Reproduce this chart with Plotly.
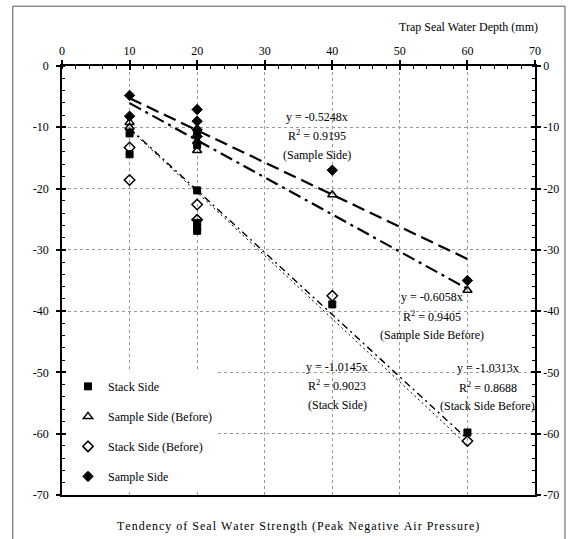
import plotly.graph_objects as go

# ---------------- data ----------------
stack_x = [10, 10, 20, 20, 20, 20, 20, 20, 40, 60]
stack_y = [-11.0, -14.4, -11.0, -12.9, -20.3, -25.6, -26.3, -26.9, -38.9, -59.8]

sample_before_x = [10, 10, 20, 20, 40, 60]
sample_before_y = [-9.2, -10.0, -12.3, -13.8, -21.0, -36.6]

stack_before_x = [10, 10, 20, 20, 40, 60]
stack_before_y = [-13.3, -18.6, -22.6, -25.1, -37.5, -61.2]

sample_x = [10, 10, 20, 20, 20, 20, 40, 60]
sample_y = [-4.8, -8.2, -7.1, -9.0, -10.4, -11.5, -17.0, -35.0]

series_names = ["Stack Side", "Sample Side (Before)", "Stack Side (Before)", "Sample Side"]

# linear trendlines through origin (as labelled on the chart)
trend_names = ["Sample Side", "Sample Side Before", "Stack Side", "Stack Side Before"]
trend_slopes = [-0.5248, -0.6058, -1.0145, -1.0313]
trend_r2 = [0.9195, 0.9405, 0.9023, 0.8688]
trend_x_range = [10, 60]

x_ticks = [0, 10, 20, 30, 40, 50, 60, 70]
x_tick_labels = ["0", "10", "20", "30", "40", "50", "60", "70"]
y_ticks = [0, -10, -20, -30, -40, -50, -60, -70]
y_tick_labels = ["0", "-10", "-20", "-30", "-40", "-50", "-60", "-70"]

x_title = "Trap Seal Water Depth (mm)"
bottom_title = "Tendency of Seal Water Strength (Peak Negative Air Pressure)"

FONT = "Liberation Serif"

fig = go.Figure()

# trendlines
trend_styles = [
    dict(dash="13px,6px", width=2.2),
    dict(dash="13px,5px,3px,5px", width=2.2),
    dict(dash="7px,4px,2px,4px", width=1.4),
    dict(dash="2px,3px", width=1.0),
]
for slope, st in zip(trend_slopes, trend_styles):
    fig.add_trace(go.Scatter(
        x=trend_x_range, y=[slope * v for v in trend_x_range],
        mode="lines", line=dict(color="black", **st),
        showlegend=False, hoverinfo="skip"))

# data series
fig.add_trace(go.Scatter(x=stack_x, y=stack_y, mode="markers", name=series_names[0],
                         legendgroup="a",
                         marker=dict(symbol="square", size=7, color="black",
                                     line=dict(color="black", width=1))))
fig.add_trace(go.Scatter(x=sample_before_x, y=sample_before_y, mode="markers", name=series_names[1],
                         legendgroup="b",
                         marker=dict(symbol="triangle-up-open", size=8, color="black",
                                     line=dict(color="black", width=1.5))))
fig.add_trace(go.Scatter(x=stack_before_x, y=stack_before_y, mode="markers", name=series_names[2],
                         legendgroup="c",
                         marker=dict(symbol="diamond-open", size=8, color="black",
                                     line=dict(color="black", width=1.5))))
fig.add_trace(go.Scatter(x=sample_x, y=sample_y, mode="markers", name=series_names[3],
                         legendgroup="d",
                         marker=dict(symbol="diamond", size=8, color="black",
                                     line=dict(color="black", width=1))))

# dummy traces to activate overlay axes (for crossing ticks & right axis)
for xa, ya in [("x2", "y"), ("x", "y2"), ("x", "y3"), ("x", "y4")]:
    fig.add_trace(go.Scatter(x=[None], y=[None], xaxis=xa, yaxis=ya,
                             showlegend=False, hoverinfo="skip"))

tickfont = dict(family=FONT, size=12, color="black")

fig.update_layout(
    width=573, height=539,
    margin=dict(l=62, r=38, t=66, b=44),
    paper_bgcolor="white", plot_bgcolor="white",
    font=dict(family=FONT, size=12, color="black"),
    xaxis=dict(side="top", range=[0, 70], tickvals=x_ticks, ticktext=x_tick_labels,
               ticks="outside", ticklen=4,
               tickwidth=1.5, tickcolor="black", tickfont=tickfont,
               showline=True, linecolor="black", linewidth=1.5, mirror=True,
               showgrid=True, gridcolor="#9a9a9a", griddash="dot", gridwidth=1,
               zeroline=False,
               minor=dict(dtick=2, ticks="inside", ticklen=3, tickcolor="black",
                          tickwidth=1, showgrid=False)),
    xaxis2=dict(overlaying="x", side="top", range=[0, 70], tickvals=x_ticks,
                ticks="inside", ticklen=4, tickwidth=1.5, tickcolor="black",
                showticklabels=False, showgrid=False, showline=False, zeroline=False),
    yaxis=dict(range=[-70, 0], tickvals=y_ticks, ticktext=y_tick_labels,
               ticks="outside", ticklen=4, ticklabelstandoff=5,
               tickwidth=1.5, tickcolor="black", tickfont=tickfont,
               showline=True, linecolor="black", linewidth=1.5,
               showgrid=True, gridcolor="#9a9a9a", griddash="dot", gridwidth=1,
               zeroline=False,
               minor=dict(dtick=2, ticks="inside", ticklen=3, tickcolor="black",
                          tickwidth=1, showgrid=False)),
    yaxis2=dict(overlaying="y", side="right", anchor="x", range=[-70, 0], tickvals=y_ticks,
                ticktext=y_tick_labels,
                ticks="outside", ticklen=4, tickwidth=1.5, tickcolor="black", tickfont=tickfont,
                showline=True, linecolor="black", linewidth=1.5, showgrid=False, zeroline=False,
                minor=dict(dtick=2, ticks="inside", ticklen=3, tickcolor="black",
                           tickwidth=1, showgrid=False)),
    yaxis3=dict(overlaying="y", side="left", anchor="x", range=[-70, 0], tickvals=y_ticks,
                ticks="inside", ticklen=4, tickwidth=1.5, tickcolor="black",
                showticklabels=False, showgrid=False, showline=False, zeroline=False),
    yaxis4=dict(overlaying="y", side="right", anchor="x", range=[-70, 0], tickvals=y_ticks,
                ticks="inside", ticklen=4, tickwidth=1.5, tickcolor="black",
                showticklabels=False, showgrid=False, showline=False, zeroline=False),
    legend=dict(x=0.0127, y=0.287, xanchor="left", yanchor="top",
                bgcolor="white", borderwidth=0, traceorder="grouped",
                tracegroupgap=11, itemwidth=30,
                font=dict(family=FONT, size=12, color="black")),
    showlegend=True,
)

# trendline equation annotations (center x, first line y in data units)
ann_pos = {
    "Sample Side": (37.7, -8.3),
    "Sample Side Before": (54.8, -37.7),
    "Stack Side": (40.7, -49.1),
    "Stack Side Before": (63.0, -49.3),
}
line_step = 3.1
for name, slope, r2 in zip(trend_names, trend_slopes, trend_r2):
    cx, cy = ann_pos[name]
    lines = [f"y = {slope:.4f}x", f"R<sup>2</sup> = {r2:.4f}", f"({name})"]
    for i, t in enumerate(lines):
        fig.add_annotation(x=cx, y=cy - i * line_step, xref="x", yref="y", text=t,
                           showarrow=False, xanchor="center", yanchor="middle",
                           font=dict(family=FONT, size=12, color="black"))

# axis titles
fig.add_annotation(x=1.0106, y=1.091, xref="paper", yref="paper", text=x_title,
                   showarrow=False, xanchor="right", yanchor="middle",
                   font=dict(family=FONT, size=12, color="black"))
spaced = "\u200a".join(list(bottom_title))
fig.add_annotation(x=0.499, y=-0.072, xref="paper", yref="paper", text=spaced,
                   showarrow=False, xanchor="center", yanchor="middle",
                   font=dict(family=FONT, size=12, color="black"))

# outer frame
fig.add_shape(type="rect", xref="paper", yref="paper",
              x0=-0.104, x1=1.0634, y0=-0.13, y1=1.1394,
              line=dict(color="#555555", width=1), fillcolor="rgba(0,0,0,0)")

fig.write_html("out.html")
